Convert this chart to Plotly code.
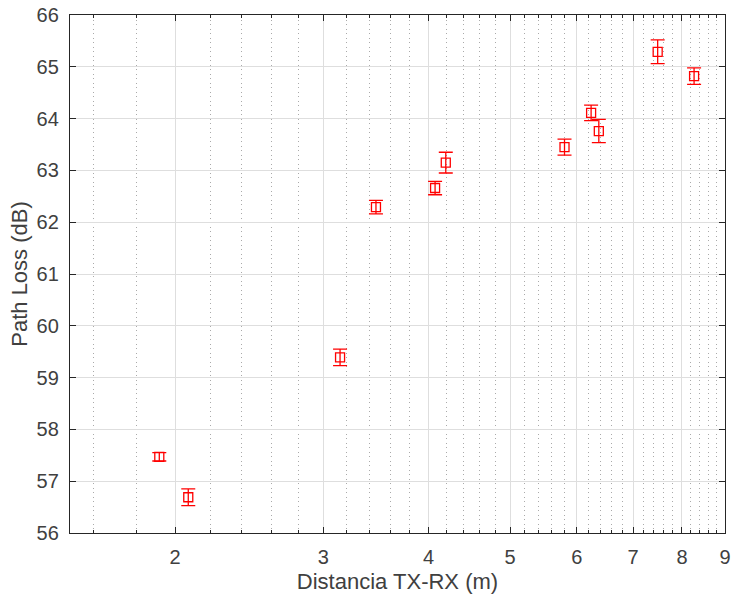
import math
import plotly.graph_objects as go

# Data
distance_m = [1.915, 2.073, 3.140, 3.464, 4.072, 4.193, 5.802, 6.240, 6.373, 7.486, 8.27]
path_loss_db = [57.47, 56.69, 59.39, 62.29, 62.66, 63.15, 63.45, 64.11, 63.76, 65.29, 64.82]
path_loss_err = [0.08, 0.16, 0.16, 0.13, 0.13, 0.20, 0.155, 0.15, 0.225, 0.23, 0.16]

x_major = [2, 3, 4, 5, 6, 7, 8, 9]
x_minor = [round(v * 0.2, 1) for v in range(8, 45) if v % 5 != 0]
y_major = list(range(56, 67))

text_col = "#262626"
label_col = "#404040"
font_family = "Liberation Sans, Arial, Helvetica, sans-serif"

fig = go.Figure()
fig.add_trace(go.Scatter(
    x=distance_m, y=path_loss_db, mode="markers",
    marker=dict(symbol="square-open", size=9, color="#ff0000",
                line=dict(width=1.3, color="#ff0000")),
    error_y=dict(type="data", array=path_loss_err, visible=True,
                 color="#ff0000", thickness=1.3, width=7),
    showlegend=False,
))

fig.update_layout(
    width=732, height=600,
    margin=dict(l=70, r=7, t=15, b=67),
    paper_bgcolor="white", plot_bgcolor="white",
    font=dict(family=font_family, size=20, color=label_col),
)

fig.update_xaxes(
    type="log", range=[math.log10(1.5), math.log10(9)],
    automargin=False,
    tickmode="array", tickvals=x_major, ticktext=[str(v) for v in x_major],
    ticks="inside", ticklen=6, tickcolor=text_col, tickwidth=1,
    showline=True, linecolor=text_col, linewidth=1.3, mirror="ticks",
    showgrid=True, gridcolor="#dedede", gridwidth=1,
    zeroline=False,
    ticklabelstandoff=6,
    minor=dict(tickmode="array", tickvals=x_minor, ticks="inside", ticklen=3,
               tickcolor=text_col, showgrid=True, gridcolor="#aaaaaa",
               griddash="1px,3.5px", gridwidth=1),
    title=dict(text="Distancia TX-RX (m)", font=dict(size=22, color=label_col), standoff=6),
    tickfont=dict(size=20, color=label_col),
)

fig.update_yaxes(
    range=[56, 66],
    automargin=False,
    tickmode="array", tickvals=y_major, ticktext=[str(v) for v in y_major],
    ticks="inside", ticklen=6, tickcolor=text_col, tickwidth=1,
    showline=True, linecolor=text_col, linewidth=1.3, mirror="ticks",
    showgrid=True, gridcolor="#dedede", gridwidth=1,
    zeroline=False,
    ticklabelstandoff=6,
    title=dict(text="Path Loss (dB)", font=dict(size=22, color=label_col), standoff=2),
    tickfont=dict(size=20, color=label_col),
)

fig.write_html("out.html")
